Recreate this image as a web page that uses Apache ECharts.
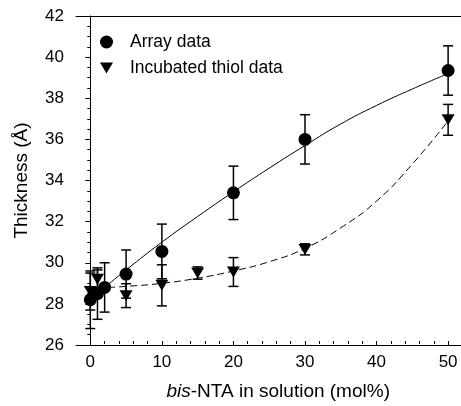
<!DOCTYPE html>
<html>
<head>
<meta charset="utf-8">
<script src="https://cdn.jsdelivr.net/npm/echarts@6/dist/echarts.min.js"></script>
<style>
  html, body { margin: 0; padding: 0; background: #fff; }
  #chart { width: 461px; height: 406px; }
</style>
</head>
<body>
<div id="chart"></div>
<script>
// Array data (circles)
const arrayX = [0, 1, 2, 5, 10, 20, 30, 50];
const arrayY = [28.2, 28.5, 28.8, 29.45, 30.55, 33.4, 36.0, 39.35];
const arrayErr = [1.4, 1.25, 1.2, 1.17, 1.33, 1.3, 1.2, 1.2];

// Incubated thiol data (triangles)
const thiolX = [0, 1, 5, 10, 15, 20, 30, 50];
const thiolY = [28.6, 29.2, 28.4, 28.9, 29.5, 29.55, 30.65, 36.95];
const thiolErr = [0.9, 0.45, 0.58, 1.0, 0.3, 0.7, 0.27, 0.75];

// fitted curves
const arrayFitX = [2, 5, 10, 15, 20, 25, 30, 35, 40, 45, 50];
const arrayFitY = [28.8, 29.65, 31.0, 32.25, 33.45, 34.6, 35.7, 36.75, 37.65, 38.45, 39.2];
const thiolFitX = [2.5, 5, 10, 15, 20, 25, 30, 35, 40, 45, 50];
const thiolFitY = [28.8, 28.85, 29.0, 29.25, 29.6, 30.05, 30.7, 31.7, 33.0, 34.8, 36.9];

const xTicks = [0, 10, 20, 30, 40, 50];
const yTicks = [26, 28, 30, 32, 34, 36, 38, 40, 42];

const font = 'Liberation Sans, Arial, sans-serif';
const downTri = 'path://M0,0 L12,0 L6,10 Z';

const zip = (xs, ys, es) => xs.map((x, i) => (es ? [x, ys[i], es[i]] : [x, ys[i]]));

// vertical error bar with caps
const errorBar = (params, api) => {
  const x = api.value(0), y = api.value(1), e = api.value(2);
  const top = api.coord([x, y + e]);
  const bot = api.coord([x, y - e]);
  const w = 5;
  const style = { stroke: '#000', lineWidth: 1.5 };
  return {
    type: 'group',
    children: [
      { type: 'line', shape: { x1: top[0], y1: top[1], x2: bot[0], y2: bot[1] }, style },
      { type: 'line', shape: { x1: top[0] - w, y1: top[1], x2: top[0] + w, y2: top[1] }, style },
      { type: 'line', shape: { x1: bot[0] - w, y1: bot[1], x2: bot[0] + w, y2: bot[1] }, style },
    ],
  };
};

const chart = echarts.init(document.getElementById('chart'));

const axisBlack = { lineStyle: { color: '#000', width: 1 } };

chart.setOption({
  animation: false,
  textStyle: { fontFamily: font, color: '#000' },
  legend: {
    data: [
      { name: 'Array data', icon: 'circle' },
      { name: 'Incubated thiol data', icon: downTri },
    ],
    orient: 'vertical',
    left: 95,
    top: 28,
    itemWidth: 13,
    itemHeight: 13,
    itemGap: 8,
    textStyle: { fontSize: 17.5, color: '#000', fontFamily: font, padding: [0, 0, 0, 12] },
  },
  grid: [
    { left: 76, right: 0, top: 16, bottom: 61 },
    { left: 90.31, right: 12.88, top: 16, bottom: 61 },
  ],
  xAxis: [
    {
      gridIndex: 0,
      type: 'value',
      min: -2,
      max: 51.8,
      axisLine: axisBlack,
      axisTick: { show: false },
      axisLabel: { show: false },
      splitLine: { show: false },
    },
    {
      gridIndex: 0,
      type: 'value',
      position: 'top',
      min: -2,
      max: 51.8,
      axisLine: axisBlack,
      axisTick: { show: false },
      axisLabel: { show: false },
      splitLine: { show: false },
    },
    {
      gridIndex: 1,
      type: 'value',
      min: xTicks[0],
      max: xTicks[xTicks.length - 1],
      interval: 10,
      axisLine: { show: false },
      axisTick: { show: true, length: 5, lineStyle: { color: '#000' } },
      minorTick: { show: true, splitNumber: 5, length: 3, lineStyle: { color: '#000' } },
      axisLabel: { fontSize: 17, color: '#000', margin: 13, fontFamily: font },
      splitLine: { show: false },
      name: '{i|bis}-NTA in solution (mol%)',
      nameLocation: 'middle',
      nameGap: 41,
      nameTextStyle: {
        fontSize: 19,
        color: '#000',
        fontFamily: font,
        padding: [0, 0, 0, 18],
        rich: { i: { fontSize: 19, fontStyle: 'italic', fontFamily: font, color: '#000' } },
      },
    },
  ],
  yAxis: [
    {
      gridIndex: 0,
      type: 'value',
      min: yTicks[0],
      max: yTicks[yTicks.length - 1],
      interval: 2,
      axisLine: { show: true, ...axisBlack },
      axisTick: { show: true, length: 5, lineStyle: { color: '#000' } },
      minorTick: { show: true, splitNumber: 4, length: 3, lineStyle: { color: '#000' } },
      axisLabel: { fontSize: 17, color: '#000', margin: 12, fontFamily: font },
      splitLine: { show: false },
      name: 'Thickness (Å)',
      nameLocation: 'middle',
      nameGap: 45,
      nameTextStyle: { fontSize: 19, color: '#000', fontFamily: font },
    },
    {
      gridIndex: 1,
      type: 'value',
      min: 26,
      max: 42,
      show: false,
    },
  ],
  series: [
    {
      name: 'Array fit',
      type: 'line',
      data: zip(arrayFitX, arrayFitY),
      smooth: true,
      showSymbol: false,
      lineStyle: { color: '#000', width: 1 },
      z: 2,
    },
    {
      name: 'Thiol fit',
      type: 'line',
      data: zip(thiolFitX, thiolFitY),
      smooth: true,
      showSymbol: false,
      lineStyle: { color: '#000', width: 1, type: [7, 4] },
      z: 2,
    },
    {
      name: 'Array err',
      type: 'custom',
      renderItem: errorBar,
      data: zip(arrayX, arrayY, arrayErr),
      z: 3,
    },
    {
      name: 'Thiol err',
      type: 'custom',
      renderItem: errorBar,
      data: zip(thiolX, thiolY, thiolErr),
      z: 3,
    },
    {
      name: 'Array data',
      type: 'scatter',
      data: zip(arrayX, arrayY),
      symbol: 'circle',
      symbolSize: 13,
      itemStyle: { color: '#000', opacity: 1 },
      z: 4,
    },
    {
      name: 'Incubated thiol data',
      type: 'scatter',
      data: zip(thiolX, thiolY),
      symbol: downTri,
      symbolSize: [13, 11],
      itemStyle: { color: '#000', opacity: 1 },
      z: 4,
    },
  ],
});
</script>
</body>
</html>
